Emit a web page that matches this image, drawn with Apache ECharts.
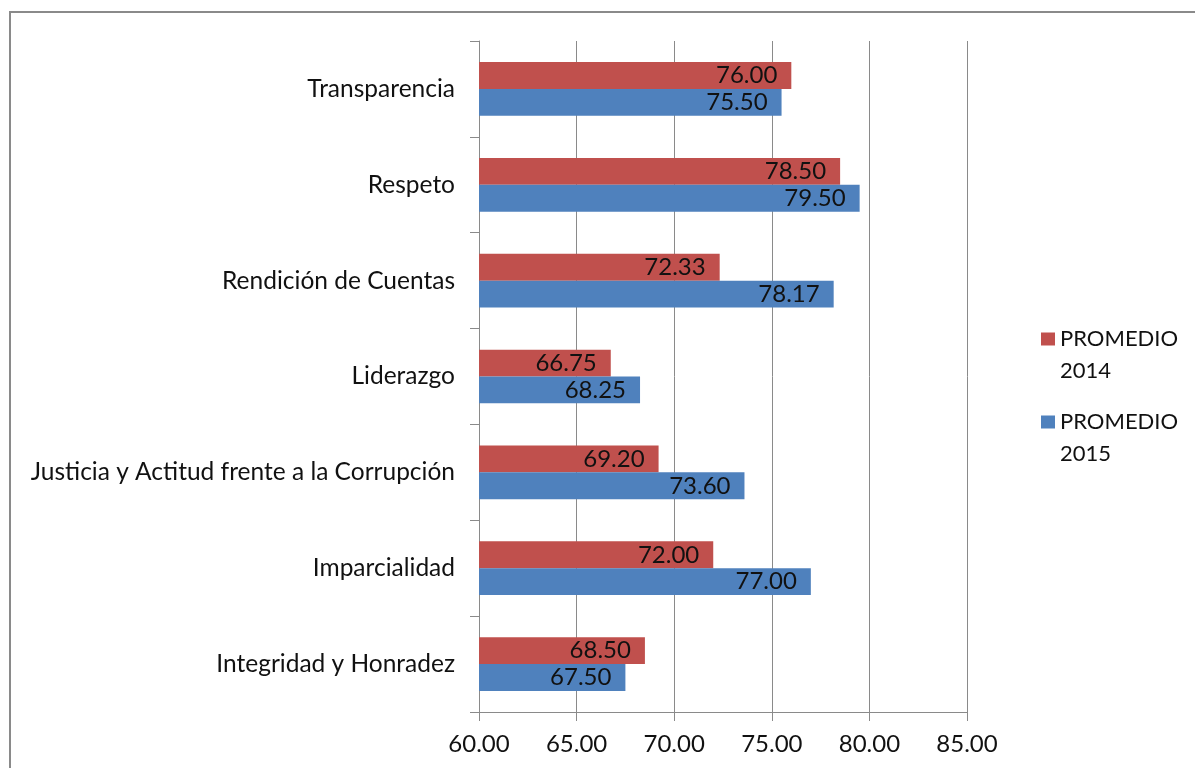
<!DOCTYPE html>
<html>
<head>
<meta charset="utf-8">
<script src="https://cdn.jsdelivr.net/npm/echarts@6/dist/echarts.min.js"></script>
<style>
  html, body { margin: 0; padding: 0; background: #fff; }
  #chart { width: 1195px; height: 768px; }
</style>
</head>
<body>
<div id="chart"></div>
<script>
// categories listed bottom to top (category axis runs upward)
var categories = ['Integridad y Honradez', 'Imparcialidad', 'Justicia y Actitud frente a la Corrupción',
  'Liderazgo', 'Rendición de Cuentas', 'Respeto', 'Transparencia'];
var promedio2014 = [68.50, 72.00, 69.20, 66.75, 72.33, 78.50, 76.00];
var promedio2015 = [67.50, 77.00, 73.60, 68.25, 78.17, 79.50, 75.50];
var xTicks = [60, 65, 70, 75, 80, 85];

var font = 'Lato';
var chart = echarts.init(document.getElementById('chart'));

var barLabel = {
  show: true,
  position: 'insideRight',
  distance: 14,
  color: '#111',
  fontFamily: font,
  fontSize: 24,
  formatter: function (p) { return p.value.toFixed(2); }
};

// empty first line keeps the icon level with "PROMEDIO"
function legendBox(name, top) {
  return {
    data: [name],
    orient: 'vertical',
    left: 1041,
    top: top,
    padding: 0,
    itemWidth: 14,
    itemHeight: 13,
    icon: 'rect',
    selectedMode: false,
    formatter: function (n) { return '\n' + n.replace(' ', '\n'); },
    textStyle: { fontFamily: font, fontSize: 22, color: '#111', lineHeight: 32 }
  };
}

chart.setOption({
  animation: false,
  legend: [legendBox('PROMEDIO 2014', 291), legendBox('PROMEDIO 2015', 374)],
  graphic: [{
    type: 'rect',
    shape: { x: 10, y: 12, width: 1200, height: 780 },
    style: { fill: 'none', stroke: '#8a8a8a', lineWidth: 2 }
  }],
  grid: { left: 479, right: 228, top: 41, bottom: 56 },
  xAxis: {
    type: 'value',
    min: xTicks[0],
    max: xTicks[xTicks.length - 1],
    interval: 5,
    axisLine: { show: true, lineStyle: { color: '#8a8a8a' } },
    axisTick: { show: true, length: 9, lineStyle: { color: '#8a8a8a' } },
    splitLine: { show: true, lineStyle: { color: '#8a8a8a' } },
    axisLabel: {
      margin: 20, color: '#111', fontFamily: font, fontSize: 24,
      formatter: function (v) { return v.toFixed(2); }
    }
  },
  yAxis: {
    type: 'category',
    data: categories,
    axisLine: { show: true, lineStyle: { color: '#8a8a8a' } },
    axisTick: { show: true, length: 9, lineStyle: { color: '#8a8a8a' } },
    axisLabel: { margin: 24, color: '#111', fontFamily: font, fontSize: 24.5 }
  },
  series: [{
    name: 'PROMEDIO 2014',
    type: 'bar',
    data: promedio2014,
    barGap: '0%',
    barCategoryGap: '44%',
    itemStyle: { color: '#C0504D' },
    label: barLabel
  }, {
    name: 'PROMEDIO 2015',
    type: 'bar',
    data: promedio2015,
    barGap: '0%',
    barCategoryGap: '44%',
    itemStyle: { color: '#4F81BD' },
    label: barLabel
  }]
});
</script>
</body>
</html>
